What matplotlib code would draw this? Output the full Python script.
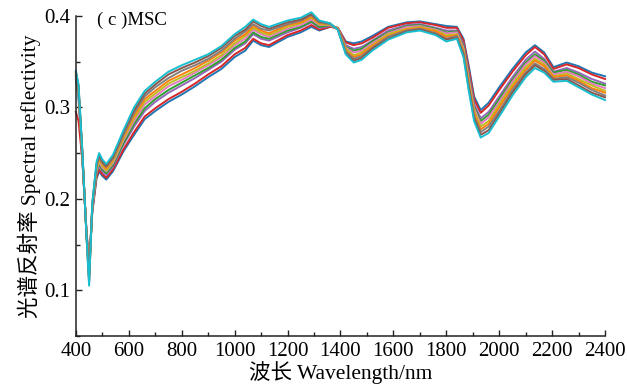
import matplotlib
matplotlib.use('Agg')
import matplotlib.pyplot as plt
from matplotlib.ticker import MultipleLocator

plt.rcParams['font.family'] = ['Liberation Serif', 'Noto Sans CJK SC', 'DejaVu Sans']

# wavelength grid (nm)
wavelength = [400, 410, 425, 440, 450, 462, 478, 488, 500, 515, 540, 580, 620, 660, 700,
              750, 800, 850, 900, 950, 1000, 1040, 1070, 1100, 1130, 1200, 1250, 1290,
              1320, 1360, 1390, 1420, 1450, 1480, 1520, 1580, 1650, 1700, 1760, 1800,
              1840, 1865, 1885, 1905, 1930, 1960, 2000, 2050, 2100, 2135, 2170, 2205,
              2255, 2300, 2350, 2400]

# MSC corrected spectra, one list per sample
spec_blue = [.330, .310, .240, .165, .130, .185, .222, .230, .225, .221, .230, .252, .270, .287, .296,
             .306, .314, .323, .333, .342, .355, .362, .373, .368, .366, .377, .382, .388,
             .384, .388, .387, .372, .370, .372, .378, .388, .393, .394, .391, .389,
             .388, .375, .345, .312, .297, .305, .322, .342, .360, .368, .360, .344,
             .349, .345, .338, .334]
spec_red = [.295, .285, .241, .165, .128, .186, .224, .232, .227, .223, .232, .254, .273, .290, .299,
            .309, .317, .326, .336, .345, .358, .365, .375, .370, .368, .379, .384, .390,
            .385, .388, .387, .371, .368, .370, .376, .387, .392, .393, .390, .387,
            .387, .373, .342, .309, .294, .302, .319, .339, .357, .366, .358, .342,
            .347, .343, .336, .331]
spec_purple = [.333, .315, .243, .164, .123, .188, .227, .236, .230, .226, .235, .259, .279, .296, .306,
               .316, .324, .332, .341, .350, .363, .370, .380, .375, .373, .382, .387, .393,
               .387, .389, .386, .368, .364, .366, .373, .384, .390, .391, .387, .384,
               .384, .369, .337, .304, .288, .295, .312, .333, .352, .361, .353, .339,
               .343, .338, .331, .326]
spec_green = [.334, .316, .244, .163, .120, .189, .229, .238, .232, .228, .237, .261, .282, .299, .309,
              .319, .327, .335, .343, .352, .365, .372, .382, .377, .375, .384, .388, .394,
              .388, .390, .386, .366, .362, .364, .372, .382, .389, .390, .386, .382,
              .383, .367, .334, .301, .285, .292, .309, .330, .349, .358, .351, .338,
              .341, .336, .328, .324]
spec_pink = [.335, .318, .245, .163, .118, .190, .231, .240, .234, .230, .239, .264, .285, .303, .312,
             .323, .330, .338, .346, .355, .368, .375, .385, .380, .377, .386, .390, .396,
             .390, .390, .386, .365, .360, .362, .370, .381, .388, .389, .385, .381,
             .382, .365, .332, .299, .282, .289, .306, .328, .347, .356, .349, .336,
             .339, .334, .326, .321]
spec_olive = [.336, .319, .246, .162, .115, .191, .233, .242, .236, .231, .241, .266, .288, .306, .315,
              .326, .333, .340, .348, .357, .370, .378, .387, .382, .379, .388, .392, .398,
              .391, .390, .386, .364, .357, .360, .368, .380, .386, .388, .384, .379,
              .380, .363, .329, .296, .279, .285, .303, .325, .344, .353, .347, .334,
              .337, .331, .324, .318]
spec_orange = [.337, .321, .247, .162, .113, .192, .235, .244, .238, .233, .243, .268, .291, .309, .318,
               .329, .336, .343, .351, .360, .373, .380, .389, .384, .381, .390, .393, .399,
               .392, .391, .386, .362, .355, .358, .367, .378, .385, .387, .383, .377,
               .379, .361, .326, .293, .276, .282, .300, .322, .341, .351, .345, .333,
               .335, .329, .321, .316]
spec_gray = [.338, .322, .248, .161, .110, .193, .236, .246, .239, .235, .244, .270, .294, .312, .322,
             .332, .340, .346, .353, .362, .375, .383, .391, .386, .384, .391, .395, .401,
             .393, .391, .385, .361, .353, .356, .365, .377, .384, .386, .381, .375,
             .378, .359, .323, .290, .273, .279, .296, .319, .338, .348, .342, .331,
             .333, .327, .319, .313]
spec_brown = [.339, .324, .249, .161, .108, .194, .238, .248, .241, .236, .246, .273, .297, .315, .325,
              .336, .343, .349, .356, .365, .378, .385, .394, .389, .386, .393, .396, .402,
              .394, .392, .385, .359, .351, .354, .364, .375, .383, .385, .380, .374,
              .376, .357, .321, .288, .270, .275, .293, .316, .336, .346, .340, .330,
              .331, .324, .316, .311]
spec_cyan = [.340, .325, .250, .160, .105, .195, .240, .250, .243, .238, .248, .275, .300, .318, .328,
             .339, .346, .352, .358, .367, .380, .388, .396, .391, .388, .395, .398, .404,
             .395, .392, .385, .358, .349, .352, .362, .374, .382, .384, .379, .372,
             .375, .355, .318, .285, .267, .272, .290, .313, .333, .343, .338, .328,
             .329, .322, .314, .308]

series = [(spec_blue, 'tab:blue'), (spec_red, 'tab:red'), (spec_purple, 'tab:purple'),
          (spec_green, 'tab:green'), (spec_pink, 'tab:pink'), (spec_olive, 'tab:olive'),
          (spec_orange, 'tab:orange'), (spec_gray, 'tab:gray'), (spec_brown, 'tab:brown'),
          (spec_cyan, 'tab:cyan')]

fig = plt.figure(figsize=(6.27, 3.88), dpi=100)
ax = fig.add_axes([0.121, 0.134, 0.844, 0.825])

for vals, col in series:
    ax.plot(wavelength, vals, color=col, lw=1.4, solid_joinstyle='round', clip_on=False)

ax.set_xlim(400, 2400)
ax.set_ylim(0.05, 0.4)
ax.xaxis.set_major_locator(MultipleLocator(200))
ax.xaxis.set_minor_locator(MultipleLocator(100))
ax.set_yticks([0.1, 0.2, 0.3, 0.4])
ax.set_yticklabels(['0.1', '0.2', '0.3', '0.4'])
ax.yaxis.set_minor_locator(MultipleLocator(0.05))
ax.tick_params(which='major', direction='in', length=4, width=1, labelsize=15, color='#222222', pad=4)
ax.tick_params(which='minor', direction='in', length=3, width=1, color='#222222')
for sp in ['top', 'right']:
    ax.spines[sp].set_visible(False)
for sp in ['left', 'bottom']:
    ax.spines[sp].set_linewidth(1.1)
    ax.spines[sp].set_color('#222222')

ax.set_xlabel('波长 Wavelength/nm', fontsize=15.5, labelpad=0)
ax.set_ylabel('光谱反射率 Spectral reflectivity', fontsize=15.5, labelpad=2)
ax.text(0.04, 0.985, '( c )MSC', transform=ax.transAxes, fontsize=13.5, va='center', ha='left')

fig.savefig('out.png', dpi=100)
